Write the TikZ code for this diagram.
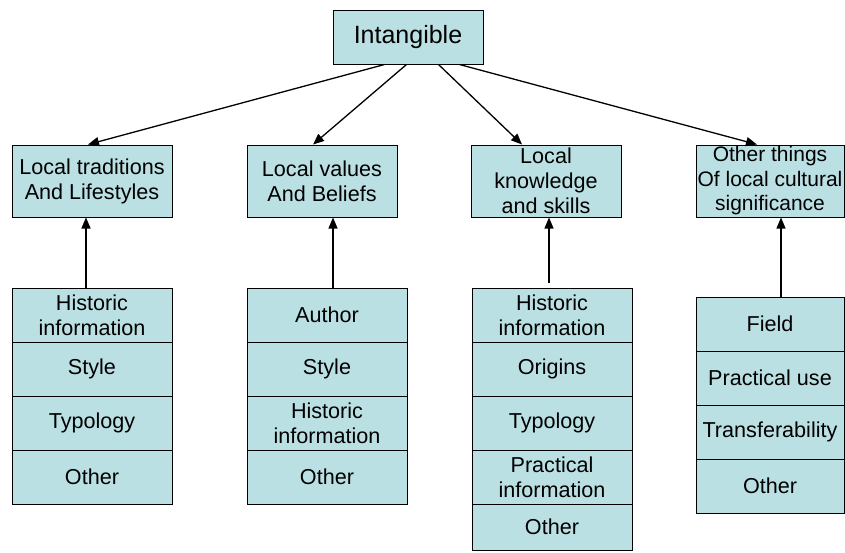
\documentclass[tikz,border=0pt]{standalone}
\usepackage{fontspec}
\setmainfont{Liberation Sans}
\usetikzlibrary{arrows.meta}
\definecolor{boxfill}{RGB}{187,224,227}
\begin{document}
\begin{tikzpicture}[x=1pt,y=-1pt,
  box/.style={draw=black, line width=1pt, fill=boxfill, inner sep=0pt, align=center,
    font=\fontsize{21.6}{25}\selectfont, minimum width=150pt, minimum height=72pt},
  cell/.style={box, minimum width=160pt, minimum height=54pt},
  cellr/.style={cell, minimum width=148pt},
  arr/.style={draw=black, line width=1.3pt, -{Triangle[length=11pt,width=9pt]}}]
\useasboundingbox (0,0) rectangle (845,552);

% top
\node[box, font=\fontsize{25}{29}\selectfont, minimum height=54pt] (top) at (408,37) {Intangible};

% level 2
\node[box, minimum width=160pt] (b1) at (92,181) {Local traditions\\And Lifestyles};
\node[box] (b2) at (322,181) {Local values\\And Beliefs};
\node[box] (b3) at (546,181) {Local\\knowledge\\and skills};
\node[box, minimum width=148pt, font=\fontsize{21}{24.5}\selectfont] (b4) at (770,181) {Other things\\Of local cultural\\significance};

% stack 1
\node[cell] (s1a) at (92,315) {Historic\\information};
\node[cell] (s1b) at (92,369) {Style};
\node[cell] (s1c) at (92,423) {Typology};
\node[cell] (s1d) at (92,477) {Other};

% stack 2
\node[cell] (s2a) at (327,315) {Author};
\node[cell] (s2b) at (327,369) {Style};
\node[cell] (s2c) at (327,423) {Historic\\information};
\node[cell] (s2d) at (327,477) {Other};

% stack 3
\node[cell] (s3a) at (552,315) {Historic\\information};
\node[cell] (s3b) at (552,369) {Origins};
\node[cell] (s3c) at (552,423) {Typology};
\node[cell] (s3d) at (552,477) {Practical\\information};
\node[cell, minimum height=46pt] (s3e) at (552,527) {Other};

% stack 4
\node[cellr] (s4a) at (770,324) {Field};
\node[cellr] (s4b) at (770,378) {Practical use};
\node[cellr] (s4c) at (770,432) {Transferability};
\node[cellr] (s4d) at (770,486) {Other};

% arrows from top
\draw[arr] ([xshift=52pt]top.south west) -- ([xshift=-4pt]b1.north);
\draw[arr] ([xshift=74pt]top.south west) -- ([xshift=-9pt]b2.north);
\draw[arr] ([xshift=106pt]top.south west) -- ([xshift=-24pt]b3.north);
\draw[arr] ([xshift=127pt]top.south west) -- ([xshift=-13pt]b4.north);

% arrows from stacks
\draw[arr] ([xshift=-6pt]s1a.north) -- ([xshift=-6pt]s1a.north |- b1.south);
\draw[arr] ([xshift=6pt]s2a.north) -- ([xshift=6pt]s2a.north |- b2.south);
\draw[arr] ([xshift=-3pt,yshift=5pt]s3a.north) -- ([xshift=-3pt]s3a.north |- b3.south);
\draw[arr] ([xshift=11pt]s4a.north) -- ([xshift=11pt]s4a.north |- b4.south);
\end{tikzpicture}
\end{document}
